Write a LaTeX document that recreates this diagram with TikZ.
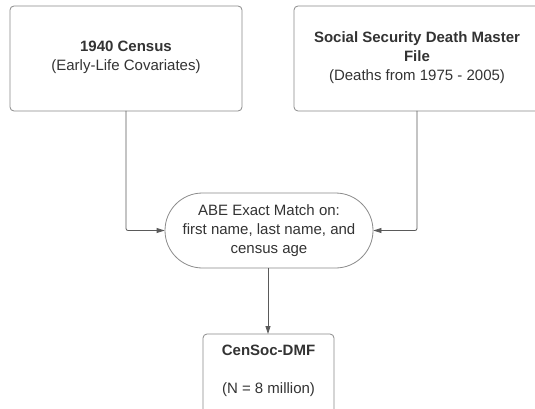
\documentclass[tikz,border=0pt]{standalone}
\usepackage{fontspec}
\setmainfont{Liberation Sans}
\usetikzlibrary{shapes.misc,arrows.meta}
\definecolor{txt}{HTML}{333333}
\definecolor{edge}{HTML}{8A8A8A}
\definecolor{conn}{HTML}{5A5A5A}
\tikzset{
  box/.style={draw=edge, line width=0.8pt, rounded corners=4pt, fill=white},
  lbl/.style={text=txt, font=\fontsize{15}{19}\selectfont, align=center, inner sep=0pt},
  conn/.style={draw=conn, line width=0.8pt, -{Triangle[length=8pt,width=5pt]}, rounded corners=2pt},
}
\begin{document}
\begin{tikzpicture}[x=1pt,y=-1pt]
\useasboundingbox (0,0) rectangle (535,409);
\clip (0,0) rectangle (535,409);
\fill[white] (0,0) rectangle (535,409);
% boxes
\draw[box] (10,6) rectangle (242,111);
\coordinate (b1) at (126,111);
\draw[box] (294,6) rectangle (560,111);
\coordinate (b2) at (417,111);
\node[draw=edge, line width=0.8pt, rounded rectangle, minimum width=208pt, minimum height=75pt, inner sep=0pt] (m) at (269,230.5) {};
\draw[box] (203,334) rectangle (334,440);
\coordinate (b3) at (268,334);
% texts
\node[lbl] (t1) at (126,57) {\textbf{1940 Census}\\(Early-Life Covariates)};
\node[lbl] (t2) at (417,57.5) {\textbf{Social Security Death Master}\\\textbf{File}\\(Deaths from 1975 - 2005)};
\node[lbl] (t3) at (269,231) {ABE Exact Match on:\\first name, last name, and\\census age};
\node[lbl, anchor=north] (t4) at (268.5,345) {\textbf{CenSoc-DMF}\\[19pt](N = 8 million)};
% connectors
\draw[conn] (b1) |- (m.west);
\draw[conn] (b2) |- (m.east);
\draw[conn] (m.south -| b3) -- (b3);
\end{tikzpicture}
\end{document}
